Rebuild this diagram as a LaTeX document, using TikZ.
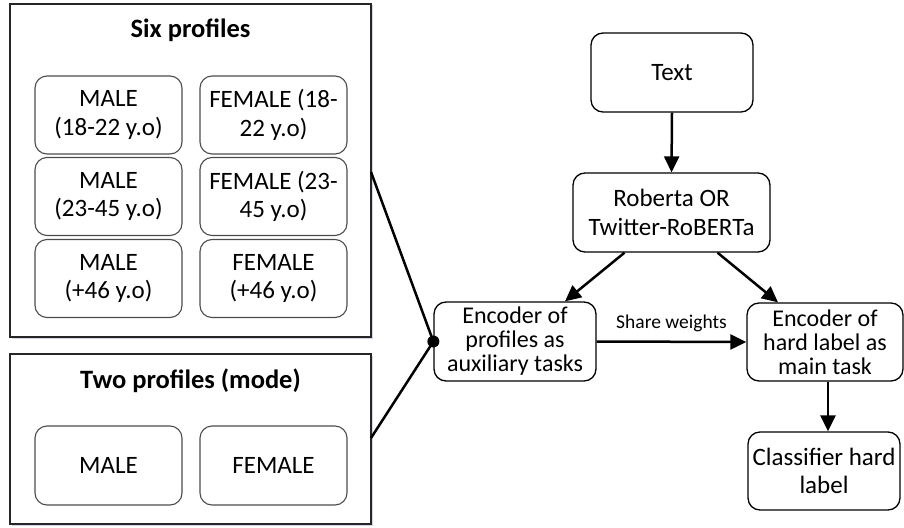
\documentclass[tikz,border=0pt]{standalone}
\usepackage{fontspec}
\setmainfont{Carlito}
\usetikzlibrary{arrows.meta,shadows,calc}
\begin{document}
\begin{tikzpicture}[x=1pt,y=-1pt,
  outerbox/.style={draw=black!85, line width=2pt, fill=white, drop shadow={opacity=0.25, shadow xshift=1.5pt, shadow yshift=-1.5pt, fill=blue!30!gray}, inner sep=0},
  profbox/.style={draw=black!70, line width=1.1pt, rounded corners=12pt, minimum width=147pt, minimum height=78pt, align=center, inner sep=0, font=\fontsize{25}{28.5}\selectfont},
  flowbox/.style={draw=black, line width=1.3pt, rounded corners=12pt, align=center, inner sep=0, font=\fontsize{25}{28.5}\selectfont},
  tight/.style={font=\fontsize{24}{24}\selectfont},
  conn/.style={line width=2.5pt},
  arr/.style={line width=2.5pt, -{Triangle[length=16pt,width=15pt]}},
  title/.style={font=\fontsize{26.5}{30}\selectfont\bfseries}
]
\useasboundingbox (0,0) rectangle (904,527);
% outer boxes
\node[outerbox, minimum width=361pt, minimum height=333pt] (six) at (190.5,170.5) {};
\node[outerbox, minimum width=361pt, minimum height=170pt] (two) at (190.5,439) {};
\node[title] (sixt) at (190.5,30) {Six profiles};
\node[title] (twot) at (190.5,381) {Two profiles (mode)};
% six profile boxes
\node[profbox] (m1) at (108.5,115) {MALE\\(18-22 y.o)};
\node[profbox] (f1) at (273.5,115) {FEMALE (18-\\22 y.o)};
\node[profbox] (m2) at (108.5,196.5) {MALE\\(23-45 y.o)};
\node[profbox] (f2) at (273.5,196.5) {FEMALE (23-\\45 y.o)};
\node[profbox] (m3) at (108.5,278.5) {MALE\\(+46 y.o)};
\node[profbox] (f3) at (273.5,278.5) {FEMALE\\(+46 y.o)};
% two profile boxes
\node[profbox, minimum height=79pt] (tm) at (108.5,465.5) {MALE};
\node[profbox, minimum height=79pt] (tf) at (273.5,465.5) {FEMALE};
% flow boxes
\node[flowbox, minimum width=162pt, minimum height=79pt] (text) at (672,72.5) {Text};
\node[flowbox, minimum width=197pt, minimum height=79pt] (rob) at (671.5,212.5) {Roberta OR\\Twitter-RoBERTa};
\node[flowbox, tight, minimum width=162pt, minimum height=79pt] (aux) at (515,341.5) {Encoder of\\profiles as\\auxiliary tasks};
\node[flowbox, tight, minimum width=156pt, minimum height=78pt] (main) at (825,342) {Encoder of\\hard label as\\main task};
\node[flowbox, minimum width=152pt, minimum height=78pt] (cls) at (824,471) {Classifier hard\\label};
% junction
\node[circle, fill=black, inner sep=0, minimum size=12pt] (dot) at (aux.west) {};
\coordinate (s1) at (371,172);
\coordinate (s2) at (371,438);
\draw[conn] (s1) -- (dot.center);
\draw[conn] (s2) -- (dot.center);
% arrows
\draw[arr] (text.south) -- (rob.north);
\draw[arr] ($(rob.south)+(-47,0)$) -- ($(aux.north)+(50,0)$);
\draw[arr] ($(rob.south)+(46,0)$) -- ($(main.north)+(-47,0)$);
\draw[arr] (aux.east) -- node[above=5pt, font=\fontsize{19.5}{22}\selectfont] (sw) {Share weights} (main.west);
\draw[arr] ($(main.south)+(3,0)$) -- ($(cls.north)+(4,0)$);
\end{tikzpicture}
\end{document}
